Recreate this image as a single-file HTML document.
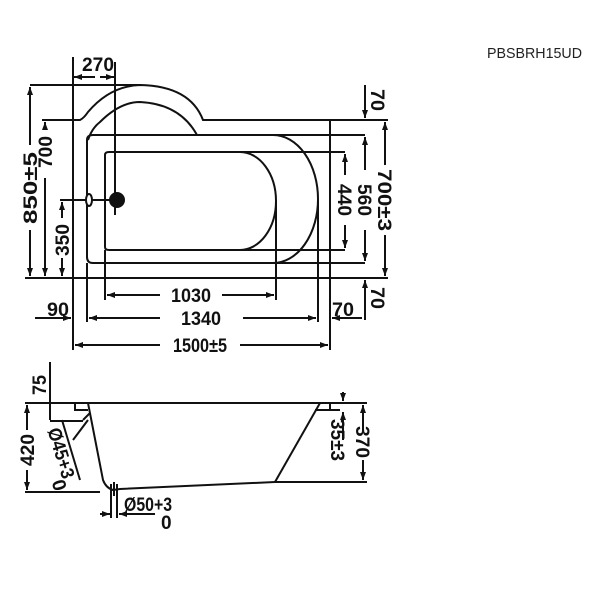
<!DOCTYPE html>
<html><head><meta charset="utf-8"><style>
html,body{margin:0;padding:0;background:#fff;}
svg{display:block;}
text{font-family:"Liberation Sans",sans-serif;font-weight:bold;font-size:19px;fill:#111;}
</style></head><body>
<svg width="600" height="600" viewBox="0 0 600 600" xmlns="http://www.w3.org/2000/svg">
<defs>
<marker id="a" markerWidth="8" markerHeight="6" refX="8" refY="3" orient="auto" markerUnits="userSpaceOnUse"><path d="M0,0 L8,3 L0,6 Z" fill="#111"/></marker>
</defs>
<text x="487" y="58" style="font-weight:normal;font-size:15px;fill:#222" textLength="95" lengthAdjust="spacingAndGlyphs">PBSBRH15UD</text>
<g stroke="#111" stroke-width="2" fill="none">
<path d="M42,120 L80,120 Q84,118 88,112 Q110,86 140,85 Q190,86 203,120 L388,120"/>
<path d="M30,85 L140,85"/>
<path d="M88,140 Q92,128 100,122 Q120,102 140,102 Q180,104 197,135"/>
<path d="M87,140 Q87,135 93,135 L273,135 A45,64 0 0 1 273,263 L93,263 Q87,263 87,257 Z"/>
<path d="M273,135 L365,135 M273,263 L365,263"/>
<path d="M105,155 Q105,152 109,152 L240,152 A36,49 0 0 1 240,250 L109,250 Q105,250 105,247 Z"/>
<path d="M240,152 L345,152 M240,250 L345,250"/>
<path d="M25,278 L388,278"/>
<path d="M73,57 L73,350"/>
<path d="M330,120 L330,350"/>
<path d="M87,263 L87,322 M318,200 L318,322"/>
<path d="M105,250 L105,300 M276,200 L276,300"/>
<path d="M115,62 L115,215"/>
<path d="M60,200 L120,200"/>
<path d="M95,77 L74,77" marker-end="url(#a)"/><path d="M100,77 L114,77" marker-end="url(#a)"/>
<path d="M30,145 L30,87" marker-end="url(#a)"/><path d="M30,230 L30,276" marker-end="url(#a)"/>
<path d="M45,128 L45,122" marker-end="url(#a)"/><path d="M45,178 L45,276" marker-end="url(#a)"/>
<path d="M62,218 L62,202" marker-end="url(#a)"/><path d="M62,258 L62,276" marker-end="url(#a)"/>
<path d="M345,175 L345,154" marker-end="url(#a)"/><path d="M345,225 L345,248" marker-end="url(#a)"/>
<path d="M365,170 L365,137" marker-end="url(#a)"/><path d="M365,230 L365,261" marker-end="url(#a)"/>
<path d="M385,165 L385,122" marker-end="url(#a)"/><path d="M385,235 L385,276" marker-end="url(#a)"/>
<path d="M365,85 L365,118" marker-end="url(#a)"/>
<path d="M365,320 L365,280" marker-end="url(#a)"/>
<path d="M160,295 L107,295" marker-end="url(#a)"/><path d="M222,295 L274,295" marker-end="url(#a)"/>
<path d="M160,318 L89,318" marker-end="url(#a)"/><path d="M243,318 L316,318" marker-end="url(#a)"/>
<path d="M160,345 L75,345" marker-end="url(#a)"/><path d="M240,345 L328,345" marker-end="url(#a)"/>
<path d="M35,318 L71,318" marker-end="url(#a)"/>
<path d="M362,318 L332,318" marker-end="url(#a)"/>
<path d="M25,403 L367,403"/>
<path d="M25,492 L100,492"/>
<path d="M88,403 L103,480 Q106,488 113,490 L120,489 L275,482 L367,482"/>
<path d="M320,403 L275,482"/>
<path d="M75,403 L75,410 L88,410"/>
<path d="M315,410 L332,410 M330,403 L330,410 M330,410 L340,410"/>
<path d="M50,362 L50,420 M50,421 L83,421"/>
<path d="M83,420 L90,413 M73,440 L88,420"/>
<path d="M62,420 L80,480"/>
<path d="M27,430 L27,405" marker-end="url(#a)"/><path d="M27,470 L27,490" marker-end="url(#a)"/>
<path d="M363,430 L363,405" marker-end="url(#a)"/><path d="M363,460 L363,480" marker-end="url(#a)"/>
<path d="M343,392 L343,401" marker-end="url(#a)"/>
<path d="M343,440 L343,412" marker-end="url(#a)"/>
<path d="M111,484 L111,518 M117,484 L117,518 M114,482 L114,496"/>
<path d="M100,514 L110,514" marker-end="url(#a)"/><path d="M155,514 L119,514" marker-end="url(#a)"/>
</g>
<ellipse cx="89" cy="200" rx="3" ry="6" fill="#fff" stroke="#111" stroke-width="2"/>
<circle cx="117" cy="200" r="8" fill="#111"/>
<text x="82" y="71" textLength="32" lengthAdjust="spacingAndGlyphs">270</text>
<text transform="translate(37,188) rotate(-90)" text-anchor="middle" textLength="72" lengthAdjust="spacingAndGlyphs">850±5</text>
<text transform="translate(52,152) rotate(-90)" text-anchor="middle" textLength="32" lengthAdjust="spacingAndGlyphs">700</text>
<text transform="translate(69,240) rotate(-90)" text-anchor="middle" textLength="32" lengthAdjust="spacingAndGlyphs">350</text>
<text transform="translate(338,200) rotate(90)" text-anchor="middle" textLength="32" lengthAdjust="spacingAndGlyphs">440</text>
<text transform="translate(358,200) rotate(90)" text-anchor="middle" textLength="32" lengthAdjust="spacingAndGlyphs">560</text>
<text transform="translate(378,200) rotate(90)" text-anchor="middle" textLength="62" lengthAdjust="spacingAndGlyphs">700±3</text>
<text transform="translate(371,100) rotate(90)" text-anchor="middle" textLength="22" lengthAdjust="spacingAndGlyphs">70</text>
<text transform="translate(371,298) rotate(90)" text-anchor="middle" textLength="22" lengthAdjust="spacingAndGlyphs">70</text>
<text x="191" y="302" text-anchor="middle" textLength="40" lengthAdjust="spacingAndGlyphs">1030</text>
<text x="201" y="325" text-anchor="middle" textLength="40" lengthAdjust="spacingAndGlyphs">1340</text>
<text x="200" y="352" text-anchor="middle" textLength="54" lengthAdjust="spacingAndGlyphs">1500±5</text>
<text x="58" y="316" text-anchor="middle" textLength="22" lengthAdjust="spacingAndGlyphs">90</text>
<text x="343" y="316" text-anchor="middle" textLength="22" lengthAdjust="spacingAndGlyphs">70</text>
<text transform="translate(46,385) rotate(-90)" text-anchor="middle" textLength="20" lengthAdjust="spacingAndGlyphs">75</text>
<text transform="translate(34,450) rotate(-90)" text-anchor="middle" textLength="32" lengthAdjust="spacingAndGlyphs">420</text>
<text transform="translate(356,442) rotate(90)" text-anchor="middle" textLength="32" lengthAdjust="spacingAndGlyphs">370</text>
<text transform="translate(331,440) rotate(90)" text-anchor="middle" textLength="42" lengthAdjust="spacingAndGlyphs">35±3</text>
<text transform="translate(55,455) rotate(73)" text-anchor="middle" textLength="52" lengthAdjust="spacingAndGlyphs">Ø45+3</text>
<text transform="translate(53,487) rotate(73)" text-anchor="middle">0</text>
<text x="124" y="511" textLength="48" lengthAdjust="spacingAndGlyphs">Ø50+3</text>
<text x="161" y="529">0</text>
</svg>
</body></html>
